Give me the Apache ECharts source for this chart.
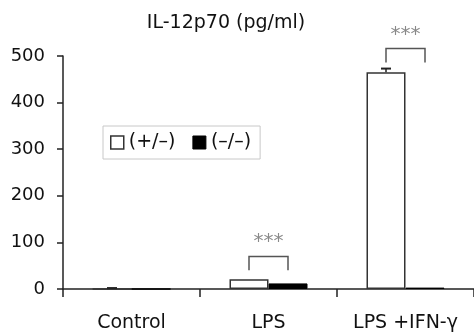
<!DOCTYPE html>
<html>
<head>
<meta charset="utf-8">
<script src="https://cdn.jsdelivr.net/npm/echarts@6/dist/echarts.min.js"></script>
<style>html,body{margin:0;padding:0;background:#fff;}#c{width:474px;height:336px;}</style>
</head>
<body>
<div id="c"></div>
<script>
var categories = ['Control', 'LPS', 'LPS +IFN-γ'];
var seriesNames = ['(+/–)', '(–/–)'];
var hetValues = [0.5, 21, 465];
var koValues = [0, 12, 3];
var hetErrors = [1.5, 0, 8];
var yTicks = [0, 100, 200, 300, 400, 500];
var sigCategories = [1, 2];
var sigLegLow = [40, 486];
var sigLegHigh = [70, 516];
var sigStarValue = [110, 554];
var sigLabel = '***';

var FONT = 'DejaVu Sans';
var TXT = '#111';
var BAR_W = 39;
var chart = echarts.init(document.getElementById('c'), null, {renderer: 'canvas'});

var errData = categories.map(function (c, i) { return [i, hetValues[i], hetErrors[i]]; });
var sigData = sigCategories.map(function (c, i) { return [c, sigLegLow[i], sigLegHigh[i], sigStarValue[i]]; });

chart.setOption({
  animation: false,
  backgroundColor: '#fff',
  title: {
    text: 'IL-12p70 (pg/ml)',
    left: 226, top: 14, textAlign: 'center', padding: 0,
    textStyle: {fontFamily: FONT, fontSize: 19, fontWeight: 'normal', color: TXT}
  },
  legend: {
    left: 103, top: 126,
    orient: 'horizontal',
    borderColor: '#c8c8c8', borderWidth: 1,
    padding: [7, 9, 7, 7],
    itemGap: 17, itemWidth: 13, itemHeight: 13,
    textStyle: {fontFamily: FONT, fontSize: 19, color: TXT},
    data: [
      {name: seriesNames[0], icon: 'rect', itemStyle: {color: '#fff', borderColor: '#333', borderWidth: 1.5}},
      {name: seriesNames[1], icon: 'rect', itemStyle: {color: '#000', borderColor: '#000', borderWidth: 1}}
    ]
  },
  grid: {left: 63, right: 0, top: 56, bottom: 47, containLabel: false},
  xAxis: {
    type: 'category', data: categories,
    axisLine: {lineStyle: {color: '#222', width: 1.5}},
    axisTick: {show: true, length: 8, lineStyle: {color: '#222', width: 1.5}},
    axisLabel: {fontFamily: FONT, fontSize: 19, color: TXT, margin: 25}
  },
  yAxis: {
    type: 'value', min: yTicks[0], max: yTicks[yTicks.length - 1], interval: yTicks[1] - yTicks[0],
    axisLine: {show: true, lineStyle: {color: '#222', width: 1.5}},
    axisTick: {show: true, length: 6, lineStyle: {color: '#222', width: 1.5}},
    axisLabel: {fontFamily: FONT, fontSize: 18, color: TXT, margin: 18},
    splitLine: {show: false}
  },
  series: [
    {
      name: seriesNames[0], type: 'bar', data: hetValues, barWidth: BAR_W, barGap: '0%',
      itemStyle: {color: '#fff', borderColor: '#333', borderWidth: 1.5}, z: 3
    },
    {
      name: seriesNames[1], type: 'bar', data: koValues, barWidth: BAR_W, barGap: '0%',
      itemStyle: {color: '#000', borderColor: '#000', borderWidth: 1}, z: 2
    },
    {
      type: 'custom', name: 'err', data: errData, clip: false, z: 4, silent: true,
      renderItem: function (params, api) {
        var cat = api.value(0), v = api.value(1), e = api.value(2);
        if (!e) return null;
        var base = api.coord([cat, v]);
        var top = api.coord([cat, v + e]);
        var x = base[0] - BAR_W / 2;
        return {type: 'group', children: [
          {type: 'line', shape: {x1: x, y1: base[1], x2: x, y2: top[1]}, style: {stroke: '#222', lineWidth: 1.5}},
          {type: 'line', shape: {x1: x - 5, y1: top[1], x2: x + 5, y2: top[1]}, style: {stroke: '#222', lineWidth: 2}}
        ]};
      }
    },
    {
      type: 'custom', name: 'sig', data: sigData, clip: false, z: 4, silent: true,
      renderItem: function (params, api) {
        var cat = api.value(0);
        var lo = api.coord([cat, api.value(1)]);
        var hi = api.coord([cat, api.value(2)]);
        var st = api.coord([cat, api.value(3)]);
        var xl = lo[0] - BAR_W / 2, xr = lo[0] + BAR_W / 2;
        return {type: 'group', children: [
          {type: 'polyline', shape: {points: [[xl, lo[1]], [xl, hi[1]], [xr, hi[1]], [xr, lo[1]]]},
            style: {stroke: '#555', lineWidth: 1.5, fill: null}},
          {type: 'text', x: lo[0], y: st[1] + 4,
            style: {text: sigLabel, fontFamily: FONT, fontSize: 20, fill: '#8a8a8a', align: 'center', verticalAlign: 'middle'}}
        ]};
      }
    }
  ]
});
</script>
</body>
</html>
